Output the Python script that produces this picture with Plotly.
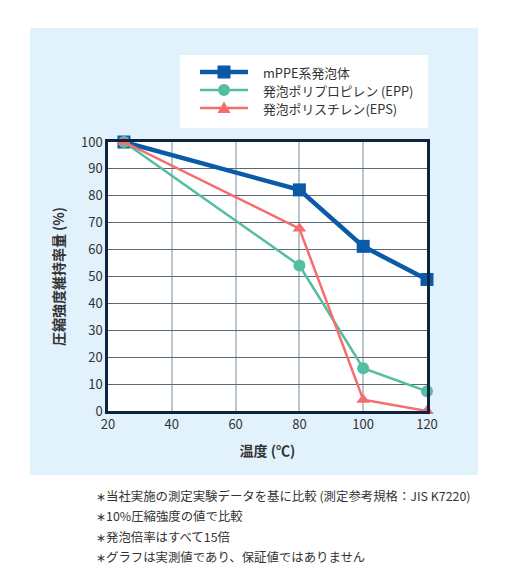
import plotly.graph_objects as go

temps = [25, 80, 100, 120]
mppe = [100, 82.2, 61.2, 48.9]
epp = [100, 54.1, 15.9, 7.3]
eps = [100, 67.8, 4.2, 0]
names = ["mPPE系発泡体", "発泡ポリプロピレン (EPP)", "発泡ポリスチレン(EPS)"]
colors = ["#0b5aa8", "#55bda2", "#f56d6d"]
notes = [
    "∗当社実施の測定実験データを基に比較 (測定参考規格：JIS K7220)",
    "∗10%圧縮強度の値で比較",
    "∗発泡倍率はすべて15倍",
    "∗グラフは実測値であり、保証値ではありません",
]

FONT = "Noto Sans CJK JP"
W, H = 510, 586
L, R, T, B = 108, 427, 142, 411


def px(x):
    return (x - L) / (R - L)


def py(y):
    return (B - y) / (B - T)


fig = go.Figure()
fig.add_trace(go.Scatter(x=temps, y=mppe, name=names[0], mode="lines+markers", cliponaxis=False,
                         line=dict(color=colors[0], width=4.5),
                         marker=dict(symbol="square", size=13, color=colors[0])))
fig.add_trace(go.Scatter(x=temps, y=epp, name=names[1], mode="lines+markers", cliponaxis=False,
                         line=dict(color=colors[1], width=2.5),
                         marker=dict(symbol="circle", size=12, color=colors[1])))
fig.add_trace(go.Scatter(x=temps, y=eps, name=names[2], mode="lines+markers", cliponaxis=False,
                         line=dict(color=colors[2], width=2.5),
                         marker=dict(symbol="triangle-up", size=12, color=colors[2])))

shapes = [
    dict(type="rect", xref="paper", yref="paper", x0=px(30), x1=px(478), y0=py(475), y1=py(28),
         fillcolor="#e2f2fc", line=dict(width=0), layer="below"),
    dict(type="rect", xref="paper", yref="paper", x0=0, x1=1, y0=0, y1=1,
         fillcolor="white", line=dict(width=0), layer="below"),
    dict(type="rect", xref="paper", yref="paper", x0=px(180), x1=px(428), y0=py(128), y1=py(55),
         fillcolor="white", line=dict(width=0), layer="below"),
]

annotations = []
# manual legend
rows = [72, 90, 108]
widths = [4.5, 2.5, 2.5]
for i, (nm, c, yy, lw) in enumerate(zip(names, colors, rows, widths)):
    shapes.append(dict(type="line", xref="paper", yref="paper", x0=px(200), x1=px(248),
                       y0=py(yy), y1=py(yy), line=dict(color=c, width=lw)))
    cx = 224
    if i == 0:
        s = 6.5
        shapes.append(dict(type="rect", xref="paper", yref="paper", x0=px(cx - s), x1=px(cx + s),
                           y0=py(yy + s), y1=py(yy - s), fillcolor=c, line=dict(width=0)))
    elif i == 1:
        s = 6
        shapes.append(dict(type="circle", xref="paper", yref="paper", x0=px(cx - s), x1=px(cx + s),
                           y0=py(yy + s), y1=py(yy - s), fillcolor=c, line=dict(width=0)))
    else:
        x0, x1, xm = px(cx - 6.5), px(cx + 6.5), px(cx)
        yb, yt = py(yy + 5), py(yy - 6.5)
        shapes.append(dict(type="path", xref="paper", yref="paper",
                           path=f"M {x0} {yb} L {x1} {yb} L {xm} {yt} Z", fillcolor=c, line=dict(width=0)))
    annotations.append(dict(text=nm, xref="paper", yref="paper", x=px(261), y=py(yy),
                            xanchor="left", yanchor="middle", showarrow=False,
                            font=dict(family=FONT, size=12.8, color="#333333")))

for i, t in enumerate(notes):
    annotations.append(dict(text=t, xref="paper", yref="paper", x=px(94), y=py(495.5 + i * 20.5),
                            xanchor="left", yanchor="middle", showarrow=False,
                            font=dict(family=FONT, size=12.4, color="#333333")))

fig.update_layout(
    width=W, height=H,
    margin=dict(l=L, r=W - R, t=T, b=H - B, pad=0),
    paper_bgcolor="white", plot_bgcolor="white",
    font=dict(family=FONT, color="#333333"),
    shapes=shapes, annotations=annotations,
    showlegend=False,
    xaxis=dict(range=[20, 120], tickvals=[20, 40, 60, 80, 100, 120], showgrid=True,
               gridcolor="#bcc4cc", gridwidth=2, zeroline=False,
               showline=True, linecolor="#0d2340", linewidth=2.5, mirror=True,
               ticks="", tickfont=dict(size=13, color="#333333"),
               title=dict(text="<b>温度 (℃)</b>", font=dict(size=14, color="#333333"), standoff=14)),
    yaxis=dict(range=[0, 100], tickvals=list(range(0, 101, 10)), showgrid=True,
               gridcolor="#5a6878", gridwidth=1.2, zeroline=False,
               showline=True, linecolor="#0d2340", linewidth=2.5, mirror=True,
               ticks="", tickfont=dict(size=13, color="#333333"),
               title=dict(text="<b>圧縮強度維持率量 (%)</b>", font=dict(size=14, color="#333333"), standoff=14)),
)

fig.write_html("out.html")
